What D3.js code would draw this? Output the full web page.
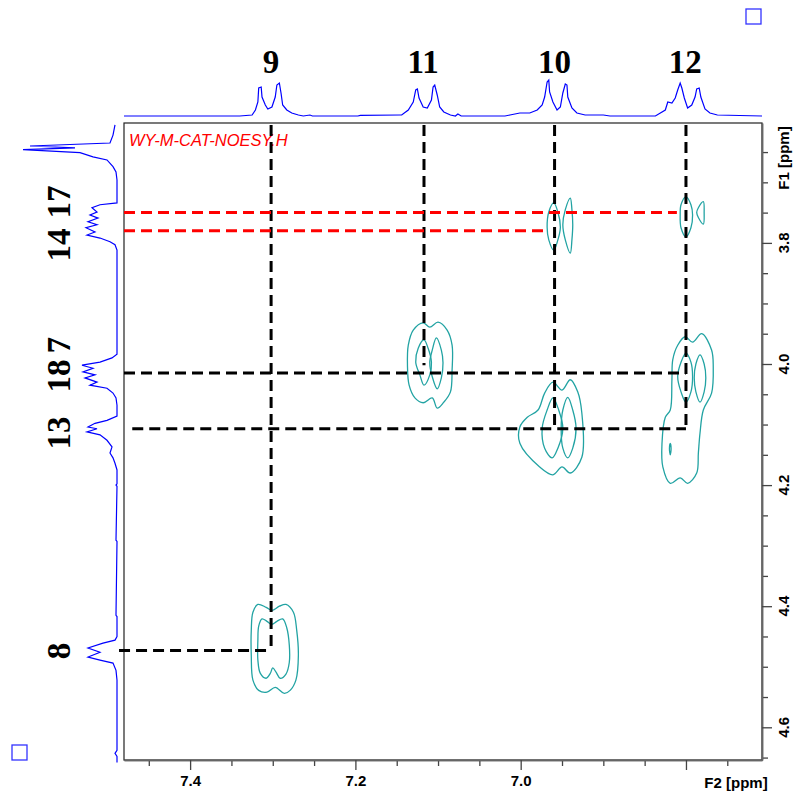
<!DOCTYPE html>
<html>
<head>
<meta charset="utf-8">
<script src="https://cdn.jsdelivr.net/npm/d3@7"></script>
<style>
  body { margin: 0; background: #fff; }
  svg { display: block; }
</style>
</head>
<body>
<svg width="794" height="791"></svg>
<script>
// 1D projections: [ppm, intensity]
const topSpectrum = [
  [7.480, 0], [7.340, 0], [7.325, 1], [7.321, 6], [7.318, 14], [7.317, 28], [7.314, 29],
  [7.313, 19], [7.309, 11], [7.306, 7], [7.301, 9], [7.297, 19], [7.295, 31], [7.292, 33],
  [7.290, 23], [7.288, 11], [7.283, 6], [7.277, 3], [7.269, 1], [7.263, 0], [7.255, 1],
  [7.252, 0], [7.197, 0], [7.194, 0.7], [7.146, 1], [7.144, 1], [7.136, 6], [7.130, 14],
  [7.127, 26], [7.125, 27], [7.123, 18], [7.118, 9], [7.113, 8], [7.108, 16], [7.106, 29],
  [7.104, 31], [7.101, 21], [7.098, 9], [7.093, 4], [7.085, 1], [7.079, 0], [7.076, 2],
  [7.072, 0], [7.019, 0], [7.013, 1], [7.001, 3], [6.989, 3], [6.980, 6], [6.974, 11],
  [6.971, 19], [6.968, 34], [6.966, 36], [6.965, 24], [6.961, 14], [6.956, 6], [6.952, 9],
  [6.949, 23], [6.946, 32], [6.944, 31], [6.943, 19], [6.938, 8], [6.932, 3], [6.922, 1],
  [6.900, 1], [6.892, 0], [6.837, 0], [6.831, 3], [6.825, 6], [6.822, 14], [6.817, 13],
  [6.813, 18], [6.810, 26], [6.807, 33], [6.805, 28], [6.802, 18], [6.798, 8], [6.793, 11],
  [6.789, 19], [6.787, 27], [6.784, 28], [6.782, 19], [6.777, 7], [6.771, 3], [6.762, 1],
  [6.708, 0]
];

const leftSpectrum = [
  [3.605, 2], [3.622, 4], [3.635, 7], [3.640, 87], [3.643, 42], [3.646, 94], [3.651, 37],
  [3.658, 24], [3.663, 10], [3.674, 4], [3.683, 1], [3.696, 0], [3.734, 0], [3.737, 17],
  [3.742, 25], [3.749, 20], [3.754, 27], [3.759, 19], [3.765, 29], [3.770, 20], [3.775, 31],
  [3.782, 22], [3.787, 30], [3.792, 17], [3.798, 7], [3.803, 2], [3.812, 0], [3.984, 0],
  [3.990, 5], [3.997, 17], [4.002, 35], [4.007, 24], [4.013, 34], [4.018, 22], [4.023, 32],
  [4.030, 20], [4.035, 27], [4.040, 10], [4.048, 4], [4.056, 1], [4.068, 0], [4.086, 0],
  [4.093, 10], [4.098, 22], [4.104, 29], [4.107, 20], [4.112, 30], [4.117, 17], [4.126, 10],
  [4.137, 5], [4.147, 7], [4.155, 4], [4.164, 2], [4.175, 0], [4.198, 0], [4.200, 1],
  [4.202, 0], [4.291, 1], [4.293, 0], [4.415, 1], [4.417, 0], [4.450, 0], [4.456, 2],
  [4.461, 14], [4.469, 29], [4.476, 17], [4.484, 29], [4.489, 17], [4.494, 4], [4.506, 1],
  [4.522, 0], [4.638, 0], [4.643, 2], [4.648, 0], [4.658, 0]
];

// contour outlines, [F2 ppm, F1 ppm]
const c9Outer = [[7.318,4.397],[7.308,4.402],[7.301,4.407],[7.292,4.400],[7.284,4.397],[7.275,4.410],
  [7.271,4.440],[7.269,4.481],[7.272,4.522],[7.279,4.539],[7.286,4.544],[7.297,4.534],[7.307,4.542],
  [7.317,4.539],[7.324,4.522],[7.326,4.481],[7.326,4.440],[7.324,4.410]];
const c9Inner = [[7.313,4.421],[7.307,4.425],[7.301,4.430],[7.295,4.425],[7.288,4.421],[7.283,4.436],
  [7.280,4.464],[7.280,4.493],[7.284,4.512],[7.291,4.519],[7.296,4.509],[7.300,4.502],[7.303,4.511],
  [7.308,4.519],[7.315,4.511],[7.318,4.489],[7.318,4.456],[7.317,4.433]];
const c11Outer = [[7.130,3.944],[7.118,3.932],[7.110,3.939],[7.100,3.931],[7.089,3.944],[7.083,3.969],
  [7.083,4.010],[7.085,4.046],[7.093,4.063],[7.101,4.073],[7.107,4.056],[7.118,4.064],[7.128,4.056],
  [7.135,4.035],[7.137,4.002],[7.136,3.969]];
const c11Left = [[7.117,3.960],[7.112,3.974],[7.108,3.997],[7.110,4.018],[7.117,4.035],[7.122,4.018],
  [7.127,3.997],[7.124,3.974]];
const c11Right = [[7.102,3.957],[7.096,3.977],[7.094,3.998],[7.096,4.023],[7.101,4.041],[7.107,4.021],
  [7.110,3.998],[7.107,3.977]];
const c10TopLeft = [[6.960,3.734],[6.955,3.749],[6.952,3.774],[6.955,3.795],[6.960,3.812],[6.966,3.795],
  [6.968,3.774],[6.966,3.749]];
const c10TopRight = [[6.940,3.726],[6.938,3.745],[6.937,3.770],[6.938,3.795],[6.940,3.817],[6.946,3.795],
  [6.949,3.770],[6.946,3.745]];
const c10Outer = [[6.961,4.030],[6.950,4.043],[6.940,4.026],[6.931,4.046],[6.926,4.081],[6.926,4.154],
  [6.940,4.180],[6.950,4.170],[6.961,4.183],[6.977,4.170],[7.001,4.131],[7.001,4.104],[6.992,4.088],
  [6.979,4.076],[6.971,4.048]];
const c10Left = [[6.961,4.056],[6.968,4.076],[6.974,4.106],[6.971,4.139],[6.962,4.155],[6.955,4.139],
  [6.949,4.106],[6.954,4.076]];
const c10Right = [[6.943,4.055],[6.937,4.076],[6.933,4.106],[6.937,4.139],[6.943,4.155],[6.949,4.139],
  [6.951,4.106],[6.949,4.076]];
const c12Top = [[6.800,3.724],[6.794,3.737],[6.792,3.754],[6.794,3.775],[6.800,3.790],[6.806,3.775],
  [6.807,3.754],[6.806,3.737]];
const c12TopSmall = [[6.779,3.732],[6.785,3.742],[6.787,3.750],[6.785,3.758],[6.779,3.769],[6.778,3.750]];
const c12Outer = [[6.801,3.955],[6.792,3.964],[6.781,3.950],[6.769,3.977],[6.767,4.005],[6.769,4.048],
  [6.779,4.076],[6.783,4.114],[6.785,4.147],[6.787,4.180],[6.798,4.197],[6.807,4.188],[6.819,4.197],
  [6.828,4.170],[6.829,4.131],[6.825,4.088],[6.819,4.076],[6.817,4.026],[6.816,3.993],[6.810,3.969]];
const c12Left = [[6.800,3.982],[6.794,3.997],[6.792,4.021],[6.794,4.046],[6.800,4.063],[6.806,4.046],
  [6.810,4.021],[6.806,3.997]];
const c12Right = [[6.783,3.985],[6.778,4.000],[6.776,4.023],[6.778,4.046],[6.783,4.063],[6.788,4.046],
  [6.790,4.023],[6.788,4.000]];
const c12Tiny = [[6.819,4.131],[6.818,4.140],[6.819,4.150],[6.820,4.140]];

const contours = [c9Outer, c9Inner, c11Outer, c11Left, c11Right, c10TopLeft, c10TopRight,
  c10Outer, c10Left, c10Right, c12Top, c12TopSmall, c12Outer, c12Left, c12Right, c12Tiny];

// assignment lines (ppm)
const vLines = [
  { f2: 7.302, f1From: 3.602, f1To: 4.473 },
  { f2: 7.117, f1From: 3.602, f1To: 4.002 },
  { f2: 6.959, f1From: 3.602, f1To: 4.107 },
  { f2: 6.800, f1From: 3.602, f1To: 4.107 }
];
const hLines = [
  { f1: 4.015, f2From: 7.480, f2To: 6.800 },
  { f1: 4.107, f2From: 7.470, f2To: 6.800 },
  { f1: 4.473, f2From: 7.486, f2To: 7.302 }
];
const redLines = [
  { f1: 3.750, f2From: 7.480, f2To: 6.811 },
  { f1: 3.780, f2From: 7.480, f2To: 6.971 }
];

const topLabels = ["9", "11", "10", "12"];
const topLabelPpm = [7.302, 7.118, 6.959, 6.801];
const leftLabels = ["17", "14", "7", "18", "13", "8"];
const leftLabelPpm = [3.7325, 3.8035, 3.969, 4.0198, 4.114, 4.474];

const f2Major = [7.4, 7.2, 7.0, 6.8];
const f2Labels = ["7.4", "7.2", "7.0", ""];
const f1Major = [3.8, 4.0, 4.2, 4.4, 4.6];
const f1Labels = ["3.8", "4.0", "4.2", "4.4", "4.6"];

const svg = d3.select("svg");

const x = d3.scaleLinear().domain([7.48, 6.708]).range([124, 762]);
const y = d3.scaleLinear().domain([3.602, 4.654]).range([123, 760]);
const topI = d3.scaleLinear().domain([0, 36]).range([116, 80]);
const leftI = d3.scaleLinear().domain([0, 94]).range([117, 23]);

const axisFont = "'Liberation Sans', Arial, sans-serif";

// frame
svg.append("rect")
  .attr("x", 124).attr("y", 123)
  .attr("width", 638).attr("height", 637)
  .attr("fill", "none").attr("stroke", "#222").attr("stroke-width", 1.2);

// axes
const minorX = x.ticks(16).filter(v => !f2Major.some(m => Math.abs(m - v) < 1e-6));
const minorY = y.ticks(21).filter(v => !f1Major.some(m => Math.abs(m - v) < 1e-6));

const axisStyle = g => {
  g.select(".domain").attr("stroke", "#666").attr("stroke-width", 1.5);
  g.selectAll(".tick line").attr("stroke", "#444").attr("stroke-width", 1.3);
};

svg.append("g").attr("transform", "translate(0,760)")
  .call(d3.axisBottom(x).tickValues(minorX).tickSize(6).tickSizeOuter(0).tickFormat(""))
  .call(axisStyle);
svg.append("g").attr("transform", "translate(0,760)")
  .attr("font-size", 15).attr("font-family", axisFont)
  .call(d3.axisBottom(x).tickValues(f2Major).tickSize(10).tickSizeOuter(0).tickPadding(5)
    .tickFormat((d, i) => f2Labels[i]))
  .call(axisStyle)
  .selectAll("text")
  .attr("font-family", axisFont)
  .attr("font-weight", "bold").attr("font-size", 15).attr("fill", "#000");

svg.append("g").attr("transform", "translate(762,0)")
  .call(d3.axisRight(y).tickValues(minorY).tickSize(6).tickSizeOuter(0).tickFormat(""))
  .call(axisStyle);
svg.append("g").attr("transform", "translate(762,0)")
  .call(d3.axisRight(y).tickValues(f1Major).tickSize(10).tickSizeOuter(0).tickFormat(""))
  .call(axisStyle);

svg.append("g").selectAll("text")
  .data(f1Major)
  .join("text")
  .attr("transform", d => `translate(789,${y(d)}) rotate(-90)`)
  .attr("text-anchor", "middle")
  .attr("font-family", axisFont)
  .attr("font-weight", "bold").attr("font-size", 15).attr("fill", "#000")
  .text((d, i) => f1Labels[i]);

svg.append("text")
  .attr("transform", "translate(789,158) rotate(-90)")
  .attr("text-anchor", "middle")
  .attr("font-family", axisFont)
  .attr("font-weight", "bold").attr("font-size", 15).attr("fill", "#000")
  .text("F1 [ppm]");

svg.append("text")
  .attr("x", 736).attr("y", 788)
  .attr("text-anchor", "middle")
  .attr("font-family", axisFont)
  .attr("font-weight", "bold").attr("font-size", 15).attr("fill", "#000")
  .text("F2 [ppm]");

// dataset name
svg.append("text")
  .attr("x", 129).attr("y", 146)
  .attr("font-family", axisFont)
  .attr("font-style", "italic").attr("font-size", 16.5).attr("fill", "#ff0000")
  .text("WY-M-CAT-NOESY.H");

// projections
svg.append("path")
  .datum(topSpectrum)
  .attr("fill", "none").attr("stroke", "#0000ff").attr("stroke-width", 1.2)
  .attr("d", d3.line().x(d => x(d[0])).y(d => topI(d[1])));

svg.append("path")
  .datum(leftSpectrum)
  .attr("fill", "none").attr("stroke", "#0000ff").attr("stroke-width", 1.2)
  .attr("d", d3.line().x(d => leftI(d[1])).y(d => y(d[0])));

// contours
const contourLine = d3.line()
  .x(d => x(d[0])).y(d => y(d[1]))
  .curve(d3.curveCatmullRomClosed.alpha(0.5));

svg.append("g").selectAll("path")
  .data(contours)
  .join("path")
  .attr("fill", "none").attr("stroke", "#22a3a3").attr("stroke-width", 1.3)
  .attr("d", contourLine);

// dashed assignment lines
const dashes = svg.append("g")
  .attr("stroke-width", 3).attr("stroke-dasharray", "11,6").attr("fill", "none");

dashes.selectAll(".v").data(vLines).join("line").attr("class", "v")
  .attr("stroke", "#000")
  .attr("x1", d => x(d.f2)).attr("x2", d => x(d.f2))
  .attr("y1", d => y(d.f1From) + 2).attr("y2", d => y(d.f1To));

dashes.selectAll(".h").data(hLines).join("line").attr("class", "h")
  .attr("stroke", "#000")
  .attr("x1", d => x(d.f2From)).attr("x2", d => x(d.f2To))
  .attr("y1", d => y(d.f1)).attr("y2", d => y(d.f1));

dashes.selectAll(".r").data(redLines).join("line").attr("class", "r")
  .attr("stroke", "#ff0000")
  .attr("x1", d => x(d.f2From)).attr("x2", d => x(d.f2To))
  .attr("y1", d => y(d.f1)).attr("y2", d => y(d.f1));

// peak labels
svg.append("g").selectAll("text")
  .data(topLabels)
  .join("text")
  .attr("x", (d, i) => x(topLabelPpm[i]))
  .attr("y", 73)
  .attr("text-anchor", "middle")
  .attr("font-family", "'Liberation Serif', 'Times New Roman', serif")
  .attr("font-weight", "bold").attr("font-size", 33).attr("fill", "#000")
  .text(d => d);

svg.append("g").selectAll("text")
  .data(leftLabels)
  .join("text")
  .attr("transform", (d, i) => `translate(70,${y(leftLabelPpm[i])}) rotate(-90)`)
  .attr("text-anchor", "middle")
  .attr("font-family", "'Liberation Serif', 'Times New Roman', serif")
  .attr("font-weight", "bold").attr("font-size", 33).attr("fill", "#000")
  .text(d => d);

// corner markers
svg.append("rect").attr("x", 746).attr("y", 9).attr("width", 15).attr("height", 15)
  .attr("fill", "none").attr("stroke", "#3333ff").attr("stroke-width", 1.3);
svg.append("rect").attr("x", 12).attr("y", 745).attr("width", 15).attr("height", 15)
  .attr("fill", "none").attr("stroke", "#3333ff").attr("stroke-width", 1.3);
</script>
</body>
</html>
